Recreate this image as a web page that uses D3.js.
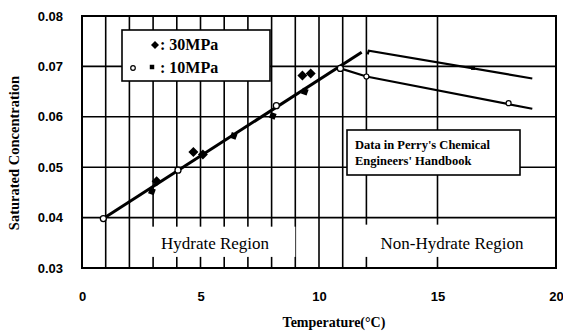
<!DOCTYPE html>
<html><head><meta charset="utf-8">
<script src="https://cdn.jsdelivr.net/npm/d3@7"></script>
<style>body{margin:0;background:#fff}svg{display:block}</style>
</head><body><svg id="c" width="563" height="334"></svg>
<script>
// ---- data ----
const xTicks = [0, 5, 10, 15, 20];
const yTicks = [0.03, 0.04, 0.05, 0.06, 0.07, 0.08];
const gridX = [1, 2, 3, 4, 5, 6, 7, 8, 9, 10, 11, 12, 15];
const gridY = [0.04, 0.05, 0.06, 0.07];
// hydrate equilibrium line (fit)
const fitT = [0.9, 11.8];
const fitC = [0.0398, 0.0728];
// 30 MPa measured (diamonds)
const p30T = [3.15, 4.7, 5.1, 9.3, 9.65];
const p30C = [0.0472, 0.0530, 0.0525, 0.0682, 0.0686];
// 10 MPa measured (filled squares)
const p10sT = [2.95, 6.4, 8.05, 9.4];
const p10sC = [0.0452, 0.0562, 0.0602, 0.0650];
// 10 MPa measured (open circles)
const p10cT = [0.9, 4.05, 8.2, 10.9];
const p10cC = [0.0398, 0.0494, 0.0622, 0.0696];
// Perry's handbook data
const perryUpT = [12.05, 12.1, 19.0];
const perryUpC = [0.0724, 0.0731, 0.0676];
const perryUpMarkT = [16.5];
const perryUpMarkC = [0.0697];
const perryLoT = [10.9, 12.0, 19.0];
const perryLoC = [0.0696, 0.0680, 0.0616];
const perryLoMarkT = [12.0, 18.0];
const perryLoMarkC = [0.0680, 0.0627];

// ---- layout ----
const svg = d3.select("#c");
const L = 82, R = 556, T = 16, B = 268;
const x = d3.scaleLinear().domain([0, 20]).range([L, R]);
const y = d3.scaleLinear().domain([0.03, 0.08]).range([B, T]);
const zip = (a, b) => a.map((v, i) => [v, b[i]]);
const serif = "'Liberation Serif','Times New Roman',serif";
const sans = "'Liberation Sans',Arial,sans-serif";

// grid
svg.append("g").selectAll("line").data(gridX).join("line")
  .attr("x1", d => x(d)).attr("x2", d => x(d)).attr("y1", T).attr("y2", B)
  .attr("stroke", "#000").attr("stroke-width", 1.6);
svg.append("g").selectAll("line").data(gridY).join("line")
  .attr("x1", L).attr("x2", R).attr("y1", d => y(d)).attr("y2", d => y(d))
  .attr("stroke", "#000").attr("stroke-width", 1.6);

// white label backgrounds
svg.append("rect").attr("x", x(2.45)).attr("y", y(0.0382)).attr("width", x(9.0) - x(2.45)).attr("height", y(0.0322) - y(0.0382)).attr("fill", "#fff");
svg.append("rect").attr("x", x(11.6)).attr("y", y(0.0386)).attr("width", x(19.7) - x(11.6)).attr("height", y(0.0322) - y(0.0386)).attr("fill", "#fff");

// frame
svg.append("rect").attr("x", L).attr("y", T).attr("width", R - L).attr("height", B - T)
  .attr("fill", "none").attr("stroke", "#000").attr("stroke-width", 2);

// axes
const xAxis = svg.append("g").attr("transform", `translate(0,${B})`)
  .call(d3.axisBottom(x).tickValues(xTicks).tickSize(0).tickPadding(24).tickFormat(d3.format("d")));
xAxis.select(".domain").remove();
xAxis.selectAll("text").attr("font-family", sans).attr("font-size", 13).attr("font-weight", "bold").attr("fill", "#000");
const yAxis = svg.append("g").attr("transform", `translate(${L},0)`)
  .call(d3.axisLeft(y).tickValues(yTicks).tickSize(0).tickPadding(19).tickFormat(d3.format(".2f")));
yAxis.select(".domain").remove();
yAxis.selectAll("text").attr("font-family", sans).attr("font-size", 13).attr("font-weight", "bold").attr("fill", "#000");

// lines
const line = d3.line().x(d => x(d[0])).y(d => y(d[1]));
svg.append("path").attr("d", line(zip(fitT, fitC))).attr("fill", "none").attr("stroke", "#000").attr("stroke-width", 3);
svg.append("path").attr("d", line(zip(perryUpT, perryUpC))).attr("fill", "none").attr("stroke", "#000").attr("stroke-width", 2.2);
svg.append("path").attr("d", line(zip(perryLoT, perryLoC))).attr("fill", "none").attr("stroke", "#000").attr("stroke-width", 2.2);

// markers
const sym = (type, size) => d3.symbol().type(type).size(size)();
svg.append("g").selectAll("path").data(zip(p30T, p30C)).join("path")
  .attr("d", sym(d3.symbolSquare, 50)).attr("transform", d => `translate(${x(d[0])},${y(d[1])}) rotate(45)`).attr("fill", "#000");
svg.append("g").selectAll("path").data(zip(p10sT, p10sC)).join("path")
  .attr("d", sym(d3.symbolSquare, 36)).attr("transform", d => `translate(${x(d[0])},${y(d[1])}) rotate(20)`).attr("fill", "#000");
svg.append("g").selectAll("circle").data(zip(p10cT, p10cC)).join("circle")
  .attr("cx", d => x(d[0])).attr("cy", d => y(d[1])).attr("r", 3).attr("fill", "#fff").attr("stroke", "#000").attr("stroke-width", 1.3);
svg.append("g").selectAll("path").data(zip(perryUpMarkT, perryUpMarkC)).join("path")
  .attr("d", sym(d3.symbolSquare, 16)).attr("transform", d => `translate(${x(d[0])},${y(d[1])})`).attr("fill", "#000");
svg.append("g").selectAll("circle").data(zip(perryLoMarkT, perryLoMarkC)).join("circle")
  .attr("cx", d => x(d[0])).attr("cy", d => y(d[1])).attr("r", 2.5).attr("fill", "#fff").attr("stroke", "#000").attr("stroke-width", 1.2);

// legend box
svg.append("rect").attr("x", 122).attr("y", 30).attr("width", 148).attr("height", 51)
  .attr("fill", "#fff").attr("stroke", "#000").attr("stroke-width", 1.6);
svg.append("path").attr("d", sym(d3.symbolSquare, 32)).attr("transform", "translate(155,45) rotate(45)").attr("fill", "#000");
svg.append("text").attr("x", 160).attr("y", 50).text(": 30MPa").attr("font-family", serif).attr("font-weight", "bold").attr("font-size", 16);
svg.append("circle").attr("cx", 133).attr("cy", 68).attr("r", 2.3).attr("fill", "#fff").attr("stroke", "#000").attr("stroke-width", 1.2);
svg.append("path").attr("d", sym(d3.symbolSquare, 20)).attr("transform", "translate(152,67)").attr("fill", "#000");
svg.append("text").attr("x", 160).attr("y", 73).text(": 10MPa").attr("font-family", serif).attr("font-weight", "bold").attr("font-size", 16);

// Perry box
svg.append("rect").attr("x", 347).attr("y", 130).attr("width", 173).attr("height", 45)
  .attr("fill", "#fff").attr("stroke", "#000").attr("stroke-width", 1.6);
svg.append("text").attr("x", 355).attr("y", 149).text("Data in Perry's Chemical").attr("font-family", serif).attr("font-weight", "bold").attr("font-size", 12.5);
svg.append("text").attr("x", 355).attr("y", 165).text("Engineers' Handbook").attr("font-family", serif).attr("font-weight", "bold").attr("font-size", 12.5);

// region labels
svg.append("text").attr("x", 215).attr("y", 249).attr("text-anchor", "middle").text("Hydrate Region").attr("font-family", serif).attr("font-size", 17);
svg.append("text").attr("x", 452).attr("y", 249).attr("text-anchor", "middle").text("Non-Hydrate Region").attr("font-family", serif).attr("font-size", 17);

// axis titles
svg.append("text").attr("x", 334).attr("y", 327).attr("text-anchor", "middle").text("Temperature(°C)").attr("font-family", serif).attr("font-weight", "bold").attr("font-size", 14);
svg.append("text").attr("transform", "translate(19,153) rotate(-90)").attr("text-anchor", "middle").text("Saturated Concentration").attr("font-family", serif).attr("font-weight", "bold").attr("font-size", 14.5);
</script></body></html>
